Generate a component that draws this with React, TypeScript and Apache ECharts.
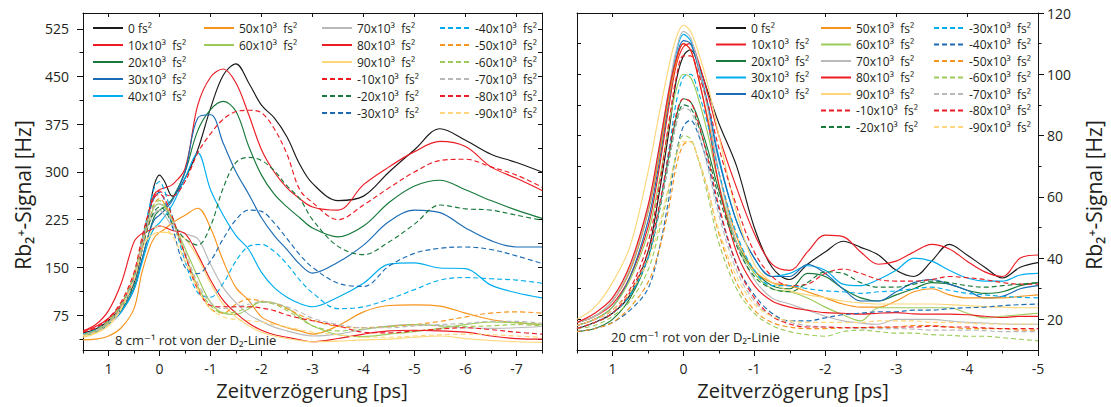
import React, { useEffect, useRef } from "react";
import * as echarts from "echarts";

const FONT = "'Open Sans', 'DejaVu Sans', sans-serif";
const TXT = "#231f20";

// time grids (ps)
const tLeft = [1.5, 1.25, 1.0, 0.75, 0.5, 0.35, 0.2, 0.1, 0, -0.1, -0.25, -0.5, -0.75, -1, -1.25, -1.5, -1.75, -2, -2.25, -2.5, -2.75, -3, -3.5, -4, -4.5, -5, -5.5, -6, -6.5, -7, -7.5];
const tRight = [1.5, 1.25, 1.0, 0.75, 0.5, 0.35, 0.2, 0.1, 0, -0.1, -0.2, -0.35, -0.5, -0.75, -1, -1.25, -1.5, -1.75, -2, -2.25, -2.5, -2.75, -3, -3.25, -3.5, -3.75, -4, -4.25, -4.5, -4.75, -5];

// legend labels (chirp values)
const legendLabels = [
  "0 fs²", "10x10³  fs²", "20x10³  fs²", "30x10³  fs²", "40x10³  fs²",
  "50x10³  fs²", "60x10³  fs²", "70x10³  fs²", "80x10³  fs²", "90x10³  fs²",
  "-10x10³  fs²", "-20x10³  fs²", "-30x10³  fs²", "-40x10³  fs²", "-50x10³  fs²",
  "-60x10³  fs²", "-70x10³  fs²", "-80x10³  fs²", "-90x10³  fs²",
];

// left panel: 8 cm-1 red of D2 line
const L_0 = [47, 53, 66, 88, 125, 175, 240, 280, 295, 285, 262, 290, 335, 400, 452, 470, 440, 405, 385, 355, 312, 282, 255, 262, 300, 335, 368, 350, 328, 315, 300];
const L_10 = [50, 57, 70, 92, 135, 185, 240, 265, 272, 275, 280, 305, 405, 449, 462, 440, 390, 335, 300, 275, 258, 245, 240, 280, 308, 332, 348, 340, 308, 290, 271];
const L_20 = [45, 50, 62, 82, 118, 160, 205, 230, 240, 245, 258, 300, 365, 398, 411, 395, 340, 295, 265, 245, 228, 212, 198, 215, 252, 278, 287, 272, 255, 240, 227];
const L_30 = [43, 48, 60, 80, 115, 160, 205, 225, 232, 240, 255, 300, 385, 390, 345, 300, 265, 228, 200, 178, 155, 141, 158, 185, 222, 240, 236, 212, 192, 182, 182];
const L_40 = [44, 49, 61, 80, 115, 155, 195, 212, 220, 230, 248, 290, 330, 272, 232, 200, 178, 142, 118, 103, 93, 88, 103, 125, 155, 157, 149, 148, 122, 110, 102];
const L_50 = [36, 37, 42, 55, 85, 140, 180, 197, 205, 210, 220, 232, 243, 212, 160, 118, 98, 72, 62, 55, 50, 45, 58, 80, 90, 91, 89, 78, 68, 63, 60];
const L_60 = [42, 48, 62, 85, 130, 180, 225, 245, 250, 245, 225, 180, 135, 95, 78, 76, 85, 96, 94, 86, 72, 58, 44, 41, 45, 49, 54, 60, 64, 63, 60];
const L_70 = [44, 50, 63, 87, 130, 180, 220, 235, 240, 232, 215, 203, 195, 155, 118, 94, 76, 65, 56, 50, 45, 42, 45, 52, 58, 60, 58, 55, 54, 55, 57];
const L_80 = [50, 60, 82, 125, 190, 203, 208, 212, 215, 213, 208, 203, 170, 130, 98, 78, 62, 51, 44, 40, 36, 33, 38, 45, 50, 51, 50, 48, 42, 38, 37];
const L_90 = [40, 46, 58, 85, 140, 180, 198, 203, 205, 205, 202, 195, 165, 125, 92, 72, 58, 48, 42, 38, 35, 33, 34, 36, 37, 40, 42, 38, 35, 33, 32];
const L_m10 = [48, 55, 68, 92, 135, 185, 240, 262, 270, 265, 262, 285, 330, 360, 383, 395, 397, 393, 368, 328, 272, 252, 225, 248, 275, 300, 318, 320, 308, 295, 276];
const L_m20 = [44, 50, 64, 86, 125, 175, 220, 238, 245, 240, 220, 195, 185, 215, 275, 315, 323, 318, 302, 278, 258, 225, 183, 170, 190, 218, 248, 242, 240, 232, 224];
const L_m30 = [44, 50, 63, 85, 125, 180, 235, 260, 268, 255, 215, 150, 140, 160, 195, 225, 240, 238, 220, 195, 170, 150, 125, 120, 152, 172, 180, 182, 178, 168, 156];
const L_m40 = [45, 52, 66, 90, 135, 190, 245, 275, 285, 270, 230, 160, 110, 103, 125, 160, 183, 186, 175, 155, 130, 110, 85, 88, 100, 115, 130, 134, 132, 130, 125];
const L_m50 = [43, 50, 64, 88, 130, 180, 225, 250, 258, 250, 225, 170, 120, 85, 78, 92, 100, 97, 93, 85, 75, 67, 57, 55, 57, 60, 65, 72, 78, 80, 78];
const L_m60 = [44, 51, 66, 92, 138, 188, 235, 250, 255, 248, 225, 170, 120, 90, 78, 80, 88, 95, 92, 82, 70, 58, 50, 53, 57, 60, 58, 57, 58, 60, 58];
const L_m70 = [43, 49, 63, 87, 132, 182, 228, 245, 250, 242, 222, 175, 125, 95, 85, 88, 92, 96, 94, 88, 80, 70, 60, 55, 55, 58, 60, 62, 65, 65, 62];
const L_m80 = [48, 55, 70, 96, 142, 195, 240, 260, 265, 258, 230, 170, 115, 90, 88, 88, 88, 86, 82, 75, 70, 66, 58, 48, 47, 50, 53, 55, 52, 48, 45];
const L_m90 = [42, 47, 60, 85, 130, 175, 202, 212, 215, 212, 200, 160, 115, 85, 72, 68, 66, 64, 60, 56, 52, 48, 44, 40, 40, 42, 44, 45, 44, 42, 40];

// right panel: 20 cm-1 red of D2 line
const R_0 = [17, 19, 22, 28, 42, 60, 82, 98, 106, 108, 104, 94, 84, 70, 50, 37, 33, 38, 42, 45.5, 43.5, 41, 36, 34, 39, 44.5, 41, 37, 33.5, 37, 38.5];
const R_10 = [19, 21, 25, 34, 50, 68, 90, 103, 109, 110, 105, 93, 80, 63, 48, 38, 36, 42, 47.5, 47, 42, 38, 39, 42, 44.5, 43, 39, 35.5, 34, 40, 41];
const R_20 = [16, 17, 20, 27, 40, 55, 74, 86, 92, 91, 86, 75, 62, 45, 36, 31, 30, 35, 34, 30, 27, 26, 28, 30, 32, 31.5, 29.5, 28.5, 29, 31, 32];
const R_30 = [19, 21, 26, 36, 55, 73, 95, 107, 113, 111, 104, 90, 73, 52, 40, 34, 35, 37.5, 36, 31.5, 31, 33, 36, 40, 39, 36, 33.5, 32.5, 32.5, 34.5, 35];
const R_40 = [18, 20, 24, 34, 52, 70, 92, 105, 111, 110, 103, 89, 72, 52, 40, 34, 34, 38, 35, 30, 26, 26, 29, 32, 33, 31.5, 29.5, 27, 27.5, 30, 31];
const R_50 = [19, 21, 26, 36, 55, 72, 93, 104, 110, 108, 100, 85, 68, 47, 36, 32, 31, 29, 27, 25, 24, 24, 26, 29, 30, 28, 27, 27, 27, 27.5, 28];
const R_60 = [18, 20, 24, 33, 48, 64, 84, 95, 100, 99, 93, 80, 64, 45, 35, 30, 29, 27, 24, 21.5, 19.5, 23.8, 23.8, 23.8, 23.8, 23.8, 22, 20.5, 21, 21.5, 22];
const R_70 = [19, 21, 26, 37, 56, 75, 96, 108, 114, 112, 104, 88, 68, 45, 33, 27, 25, 23, 21, 19.5, 18.8, 18.4, 20, 20, 20, 19.5, 19, 18.8, 18.5, 18.4, 18.4];
const R_80 = [19, 22, 27, 38, 57, 75, 95, 105, 110, 108, 100, 84, 64, 42, 31, 26, 24, 23, 22.2, 22, 21.7, 22, 22.2, 21.8, 21.7, 21.7, 21.5, 21, 20.6, 21, 21];
const R_90 = [20, 24, 32, 44, 68, 86, 103, 112, 116, 114, 108, 96, 80, 55, 38, 32, 29.3, 28, 27.1, 26, 25.4, 25, 25, 25, 25, 24.8, 24.5, 24.2, 24, 23.8, 23.8];
const R_m10 = [18, 20, 23, 30, 45, 62, 85, 99, 106, 106, 101, 90, 76, 57, 42, 34, 31, 31.5, 35, 36.4, 35, 33, 32.5, 32.5, 33, 34, 33.6, 33, 32, 31.5, 31.5];
const R_m20 = [17, 19, 22, 28, 40, 54, 72, 84, 90, 89, 84, 73, 60, 44, 34, 30, 29, 32, 35.5, 35, 32, 30.5, 30.5, 31.5, 32.5, 32, 31, 30.5, 31, 31.5, 32];
const R_m30 = [17, 19, 22, 28, 40, 55, 76, 91, 99, 100, 95, 83, 68, 48, 36, 31, 31, 30, 29.3, 29, 28.5, 29, 29.3, 30, 30.5, 29.5, 28.5, 28, 27.5, 27.2, 27];
const R_m40 = [16, 17, 19, 23, 30, 42, 60, 74, 83, 85, 81, 70, 56, 38, 28, 22, 19.5, 19.5, 20.5, 21.5, 22, 22.5, 22.5, 23, 23, 23.5, 23.8, 24, 24.5, 24.8, 25];
const R_m50 = [16, 17, 19, 24, 32, 42, 57, 70, 77, 78, 73, 62, 48, 32, 23, 19, 17.5, 17, 17, 17.2, 17.3, 17.3, 17.5, 18, 18, 17.5, 17, 17, 17, 16.5, 16.5];
const R_m60 = [17, 18, 21, 26, 36, 48, 63, 74, 80, 79, 73, 60, 45, 30, 22, 18, 16, 15, 14.5, 16, 16.5, 16, 15.5, 15.5, 15, 14.8, 14.5, 14.5, 14, 13.5, 13];
const R_m70 = [17, 19, 22, 29, 41, 55, 72, 84, 89, 88, 82, 69, 54, 36, 26, 21, 19, 18, 17.5, 17.3, 17, 17, 17, 16.8, 16.5, 16.5, 16.5, 16.3, 16, 16, 16];
const R_m80 = [17, 19, 22, 29, 42, 56, 75, 87, 92, 91, 85, 72, 57, 38, 27, 21, 18.5, 17.5, 17.5, 17.3, 17.3, 17.5, 17.5, 17.5, 17.8, 17.5, 17.5, 17.2, 17, 17, 17];
const R_m90 = [18, 20, 23, 29, 39, 50, 64, 73, 78, 78, 73, 62, 49, 34, 25, 21, 19.5, 19, 19, 19, 19, 19.5, 19.5, 19.5, 19, 19, 18.8, 18.5, 18.5, 18.5, 18.5];

const leftValues = [L_0, L_10, L_20, L_30, L_40, L_50, L_60, L_70, L_80, L_90, L_m10, L_m20, L_m30, L_m40, L_m50, L_m60, L_m70, L_m80, L_m90];
const rightValues = [R_0, R_10, R_20, R_30, R_40, R_50, R_60, R_70, R_80, R_90, R_m10, R_m20, R_m30, R_m40, R_m50, R_m60, R_m70, R_m80, R_m90];

// tick values
const xLeftMajor = [1, 0, -1, -2, -3, -4, -5, -6, -7];
const xLeftMinor = [1.5, 0.5, -0.5, -1.5, -2.5, -3.5, -4.5, -5.5, -6.5, -7.5];
const yLeftMajor = [75, 150, 225, 300, 375, 450, 525];
const yLeftMinor = [37.5, 112.5, 187.5, 262.5, 337.5, 412.5, 487.5];
const xRightMajor = [1, 0, -1, -2, -3, -4, -5];
const xRightMinor = [1.5, 0.5, -0.5, -1.5, -2.5, -3.5, -4.5];
const yRightMajor = [20, 40, 60, 80, 100, 120];
const yRightMinor = [30, 50, 70, 90, 110];

const COL = {
  black: "#1a1a1a",
  red: "#ec1c24",
  dkgreen: "#18793b",
  blue: "#1b6cb4",
  ltblue: "#00aeef",
  orange: "#f7941d",
  ltgreen: "#9ccb5a",
  grey: "#b9b9b9",
  yellow: "#fdd77a",
};
const leftColors = [COL.black, COL.red, COL.dkgreen, COL.blue, COL.ltblue, COL.orange, COL.ltgreen, COL.grey, COL.red, COL.yellow,
  COL.red, COL.dkgreen, COL.blue, COL.ltblue, COL.orange, COL.ltgreen, COL.grey, COL.red, COL.yellow];
const rightColors = [COL.black, COL.red, COL.dkgreen, COL.ltblue, COL.blue, COL.orange, COL.ltgreen, COL.grey, COL.red, COL.yellow,
  COL.red, COL.dkgreen, COL.ltblue, COL.blue, COL.orange, COL.ltgreen, COL.grey, COL.red, COL.yellow];

const DASH = [5, 3];

function App() {
  const ref = useRef<HTMLDivElement>(null);
  useEffect(() => {
    if (!ref.current) return;
    const chart = echarts.init(ref.current, null, { renderer: "svg" });

    const mkSeries = (prefix: string, ts: number[], vals: number[][], colors: string[], gi: number) =>
      vals.map((arr, i) => ({
        name: prefix + i,
        type: "line",
        xAxisIndex: gi === 0 ? 0 : 3,
        yAxisIndex: gi === 0 ? 0 : 3,
        data: ts.map((t, k) => [t, arr[k]]),
        symbol: "none",
        showSymbol: false,
        smooth: 0.35,
        color: colors[i],
        lineStyle: { width: 1.15, color: colors[i], type: i >= 10 ? DASH : "solid" },
        z: 2,
      }));

    const labelFmt = (name: string) => legendLabels[parseInt(name.slice(1), 10)];
    const mkLegend = (left: number, names: string[], gap: number) => ({
      orient: "vertical",
      left,
      top: 22,
      padding: 0,
      itemWidth: 30,
      itemHeight: 14,
      itemGap: gap,
      selectedMode: false,
      data: names,
      formatter: labelFmt,
      itemStyle: { opacity: 0, borderWidth: 0 },
      textStyle: { fontSize: 12, fontFamily: FONT, color: TXT },
    });
    const idx = (p: string, a: number[]) => a.map((i) => p + i);

    const axisLine = { show: true, onZero: false, lineStyle: { color: "#111", width: 1 } };
    const noLine = { show: false, onZero: false };
    const tickStyle = { color: "#111", width: 1 };

    const xAxes = (gi: number, min: number, max: number, major: number[], minor: number[]) => [
      {
        type: "value", gridIndex: gi, position: "bottom", min, max, inverse: true,
        axisLine, splitLine: { show: false },
        axisTick: { show: true, length: 6, lineStyle: tickStyle, customValues: major },
        axisLabel: { show: true, customValues: major, margin: 11, fontSize: 14, fontFamily: FONT, color: TXT },
      },
      {
        type: "value", gridIndex: gi, position: "bottom", min, max, inverse: true,
        axisLine: noLine, splitLine: { show: false },
        axisTick: { show: true, length: 3.5, lineStyle: tickStyle, customValues: minor },
        axisLabel: { show: false },
      },
      {
        type: "value", gridIndex: gi, position: "top", min, max, inverse: true,
        axisLine, splitLine: { show: false },
        axisTick: { show: true, inside: true, length: 4, lineStyle: tickStyle, customValues: major },
        axisLabel: { show: false },
      },
    ];
    const yAxes = (gi: number, min: number, max: number, major: number[], minor: number[], side: "left" | "right", margin: number) => {
      const other = side === "left" ? "right" : "left";
      return [
        {
          type: "value", gridIndex: gi, position: side, min, max,
          axisLine, splitLine: { show: false },
          axisTick: { show: true, length: 6, lineStyle: tickStyle, customValues: major },
          axisLabel: { show: true, customValues: major, margin, fontSize: 14, fontFamily: FONT, color: TXT },
        },
        {
          type: "value", gridIndex: gi, position: side, min, max,
          axisLine: noLine, splitLine: { show: false },
          axisTick: { show: true, length: 3.5, lineStyle: tickStyle, customValues: minor },
          axisLabel: { show: false },
        },
        {
          type: "value", gridIndex: gi, position: other, min, max,
          axisLine, splitLine: { show: false },
          axisTick: { show: true, inside: true, length: 4, lineStyle: tickStyle, customValues: major.concat(minor) },
          axisLabel: { show: false },
        },
      ];
    };

    const titleStyle = { fontSize: 20, fontFamily: FONT, fill: TXT, align: "center", verticalAlign: "middle" };

    chart.setOption({
      animation: false,
      backgroundColor: "#ffffff",
      grid: [
        { left: 83, top: 13, width: 459, height: 337 },
        { left: 577, top: 13, width: 461, height: 337 },
      ],
      xAxis: [
        ...xAxes(0, -7.5, 1.5, xLeftMajor, xLeftMinor),
        ...xAxes(1, -5, 1.5, xRightMajor, xRightMinor),
      ],
      yAxis: [
        ...yAxes(0, 20, 550, yLeftMajor, yLeftMinor, "left", 14),
        ...yAxes(1, 10, 120, yRightMajor, yRightMinor, "right", 9),
      ],
      legend: [
        mkLegend(92, idx("L", [0, 1, 2, 3, 4]), 5),
        mkLegend(203, idx("L", [5, 6]), 5),
        mkLegend(321, idx("L", [7, 8, 9, 10, 11, 12]), 5),
        mkLegend(439, idx("L", [13, 14, 15, 16, 17, 18]), 5),
        mkLegend(715, idx("R", [0, 1, 2, 3, 4]), 4.5),
        mkLegend(820, idx("R", [5, 6, 7, 8, 9, 10, 11]), 4.5),
        mkLegend(933, idx("R", [12, 13, 14, 15, 16, 17, 18]), 4.5),
      ],
      series: [
        ...mkSeries("L", tLeft, leftValues, leftColors, 0),
        ...mkSeries("R", tRight, rightValues, rightColors, 1),
      ],
      graphic: [
        { type: "text", x: 312, y: 390, style: { ...titleStyle, text: "Zeitverzögerung [ps]" } },
        { type: "text", x: 793, y: 390, style: { ...titleStyle, text: "Zeitverzögerung [ps]" } },
        { type: "text", x: 23, y: 195, rotation: Math.PI / 2, style: { ...titleStyle, fontSize: 21, text: "Rb₂⁺-Signal [Hz]" } },
        { type: "text", x: 1094, y: 195, rotation: Math.PI / 2, style: { ...titleStyle, fontSize: 21, text: "Rb₂⁺-Signal [Hz]" } },
        { type: "text", x: 115, y: 340, style: { fontSize: 13, fontFamily: FONT, fill: TXT, align: "left", verticalAlign: "middle", text: "8 cm⁻¹ rot von der D₂-Linie" } },
        { type: "text", x: 611, y: 337, style: { fontSize: 13, fontFamily: FONT, fill: TXT, align: "left", verticalAlign: "middle", text: "20 cm⁻¹ rot von der D₂-Linie" } },
      ],
    });
    return () => chart.dispose();
  }, []);
  return (
    <div
      ref={ref}
      style={{ position: "fixed", left: 0, top: 0, width: 1111, height: 407, background: "#fff" }}
    />
  );
}

export default App;
